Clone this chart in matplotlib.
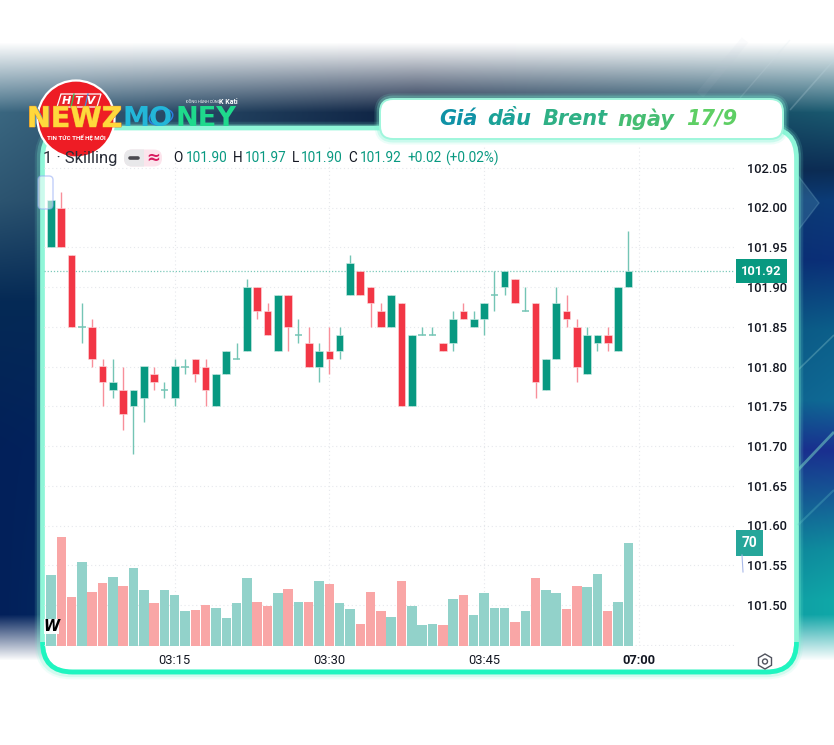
import matplotlib
matplotlib.use('Agg')
import matplotlib.pyplot as plt
import matplotlib.patheffects as pe
from matplotlib.patches import FancyBboxPatch, Circle, Rectangle, Polygon, RegularPolygon, Ellipse
from matplotlib.transforms import blended_transform_factory
import numpy as np

plt.rcParams['font.family'] = ['Roboto', 'DejaVu Sans']

W, H = 834, 745

opens = [101.95,102.00,101.94,101.85,101.85,101.80,101.77,101.77,101.75,101.76,101.79,101.77,101.76,101.80,101.81,101.80,101.75,101.79,101.81,101.82,
         101.90,101.87,101.82,101.89,101.84,101.83,101.80,101.82,101.82,101.89,101.92,101.90,101.87,101.85,101.88,101.75,101.84,101.84,101.83,101.83,
         101.87,101.85,101.86,101.89,101.90,101.91,101.87,101.88,101.77,101.81,101.87,101.85,101.79,101.83,101.84,101.82,101.90]
closes = [102.01,101.95,101.85,101.85,101.81,101.78,101.78,101.74,101.77,101.80,101.78,101.77,101.80,101.80,101.79,101.77,101.79,101.82,101.81,101.90,
          101.87,101.84,101.89,101.85,101.84,101.80,101.82,101.81,101.84,101.93,101.89,101.88,101.85,101.89,101.75,101.84,101.84,101.84,101.82,101.86,
          101.86,101.86,101.88,101.89,101.92,101.88,101.87,101.78,101.81,101.88,101.86,101.80,101.84,101.84,101.83,101.90,101.92]
highs = [102.01,102.02,101.94,101.88,101.86,101.81,101.81,101.80,101.77,101.80,101.80,101.78,101.81,101.81,101.81,101.81,101.79,101.82,101.83,101.91,
         101.90,101.88,101.89,101.89,101.86,101.85,101.83,101.85,101.85,101.94,101.92,101.90,101.88,101.89,101.88,101.84,101.85,101.85,101.83,101.87,
         101.88,101.87,101.88,101.92,101.92,101.91,101.90,101.88,101.81,101.90,101.89,101.86,101.85,101.84,101.85,101.90,101.97]
lows = [101.95,101.95,101.85,101.83,101.80,101.75,101.76,101.72,101.69,101.73,101.77,101.76,101.75,101.79,101.78,101.75,101.75,101.79,101.81,101.82,
        101.86,101.84,101.82,101.82,101.83,101.80,101.78,101.79,101.81,101.89,101.89,101.85,101.85,101.85,101.75,101.75,101.84,101.84,101.82,101.82,
        101.86,101.85,101.84,101.87,101.89,101.88,101.87,101.76,101.77,101.81,101.85,101.78,101.79,101.82,101.82,101.82,101.90]
volumes = [48,74,33,57,37,43,47,41,53,38,29,38,35,24,24.5,28,26,19,29,46,30,27,36,39,30,30,44,42,29,25,
           15,37,24,20,44,27,14,15,14.5,32,35,21,36,26,26,16,24,46,38,36,25,41,40,49,24,30,70]

price_ticks = [101.45,101.50,101.55,101.60,101.65,101.70,101.75,101.80,101.85,101.90,101.95,102.00,102.05]
price_labels = ['','101.50','101.55','101.60','101.65','101.70','101.75','101.80','101.85','101.90','101.95','102.00','102.05']
time_ticks = [12,27,42,57]
time_labels = ['03:15','03:30','03:45','07:00']

GREEN = '#089981'
RED = '#f23645'
GREEN_WICK = '#74c5b5'
RED_WICK = '#f88f9a'
GREEN_VOL = '#92d2ca'
RED_VOL = '#f9a6a6'
TXT = '#131722'

fig = plt.figure(figsize=(W/100, H/100), dpi=100)

# background picture, left and right colour columns blended across
ax_bg = fig.add_axes([0,0,1,1], zorder=0)
stops = [0,100,200,300,450,600,745]
left_col = np.array([[60,105,130],[60,105,130],[44,84,112],[5,42,85],[2,32,90],[2,32,90],[2,32,90]])
mid_col = np.array([[13,31,63],[13,31,63],[8,35,75],[5,40,90],[5,50,110],[8,80,130],[8,80,130]])
right_stops = [0,110,170,200,260,330,400,450,500,550,600,745]
right_col = np.array([[26,90,112],[26,90,112],[12,44,84],[12,60,120],[11,47,120],[12,95,138],[15,106,149],[26,47,144],[21,94,150],[15,143,159],[16,168,168],[16,168,168]])
yy = np.arange(H)
cols = np.zeros((H,3,3))
for c in range(3):
    cols[:,0,c] = np.interp(yy,stops,left_col[:,c])
    cols[:,1,c] = np.interp(yy,stops,mid_col[:,c])
    cols[:,2,c] = np.interp(yy,right_stops,right_col[:,c])
xx = np.arange(W)/(W-1)
img = np.zeros((H,W,3))
for c in range(3):
    a = np.clip(xx*2,0,1)[None,:]
    b = np.clip(xx*2-1,0,1)[None,:]
    img[:,:,c] = cols[:,0,c][:,None]*(1-a) + cols[:,1,c][:,None]*a*(1-b) + cols[:,2,c][:,None]*b
# white fades top and bottom
top_col = np.clip((yy-42)/70,0,1)[:,None]
bot_fade = np.clip((660-yy)/46,0,1)[:,None]
for c in range(3):
    img[:,:,c] = 255 - (255-img[:,:,c])*top_col
    img[:,:,c] = 255 - (255-img[:,:,c])*bot_fade
ax_bg.imshow(img/255, extent=(0,W,H,0), aspect='auto')
ax_bg.set_xlim(0,W)
ax_bg.set_ylim(H,0)
ax_bg.axis('off')

# diagonal streaks and a diamond on the right
ax_bg.add_patch(Polygon([[790,165],[819,203],[790,241],[770,203]],fc='#5a9ab8',ec='#7ab0c8',alpha=.28,lw=1))
for x0,y0,x1,y1,col,al,lw in [(798,370,834,335,'#9fd8d8',.3,1.2),(798,470,834,432,'#7fe0c8',.5,2),(798,525,834,490,'#60c0c8',.3,1.5),
                              (790,110,834,60,'#c0d8e0',.25,1.2),(700,95,745,40,'#c0c8d8',.07,6),(740,98,790,40,'#d0e0e8',.15,1)]:
    ax_bg.plot([x0,x1],[y0,y1],color=col,alpha=al,lw=lw,solid_capstyle='butt')

# white panel
for lw,al in [(9,.12),(6,.25)]:
    ax_bg.add_patch(FancyBboxPatch((41,128),756,545,boxstyle='round,pad=0,rounding_size=30',fc='none',ec='#7ff5d5',lw=lw,alpha=al))
ax_bg.add_patch(FancyBboxPatch((42.5,128),754,544,boxstyle='round,pad=0,rounding_size=30',fc='white',ec='#8ff6d8',lw=3.4))
low_edge = FancyBboxPatch((42.5,128),754,544,boxstyle='round,pad=0,rounding_size=30',fc='none',ec='#1ff5c0',lw=3.4)
ax_bg.add_patch(low_edge)
low_edge.set_clip_path(Rectangle((0,642),W,103,transform=ax_bg.transData))

# price axes
ax = fig.add_axes([44/W,1-646/H,691/W,499/H],zorder=2)
ax.patch.set_alpha(0)
ax.set_xlim((44-51)/10.31,(735-51)/10.31)
per_px = 0.5/397.5
ax.set_ylim(101.5-(646-605)*per_px,102+(207.5-147)*per_px)
for s in ax.spines.values():
    s.set_visible(False)
idx = np.arange(len(opens))
o = np.array(opens); c = np.array(closes); h = np.array(highs); l = np.array(lows)
up = c>=o
ax.vlines(idx[up],l[up],h[up],color=GREEN_WICK,lw=1.0,zorder=3)
ax.vlines(idx[~up],l[~up],h[~up],color=RED_WICK,lw=1.0,zorder=3)
body = np.abs(c-o)
ax.bar(idx[up&(body>0)],body[up&(body>0)],bottom=o[up&(body>0)],width=.74,color=GREEN,edgecolor='#d5efe9',linewidth=.4,zorder=4)
ax.bar(idx[~up],body[~up],bottom=c[~up],width=.74,color=RED,edgecolor='#fde0e3',linewidth=.4,zorder=4)
doji = body==0
ax.hlines(c[doji],idx[doji]-.36,idx[doji]+.36,color=GREEN_WICK,lw=1.1,zorder=4)
ax.axhline(closes[-1],color='#7cc9ba',lw=.9,ls=(0,(1,1.5)),zorder=2)
ax.yaxis.tick_right()
ax.set_yticks(price_ticks)
ax.set_yticklabels(price_labels,fontsize=9.3,color=TXT,fontweight='medium')
ax.set_xticks(time_ticks)
ax.set_xticklabels(time_labels,fontsize=9.3,color=TXT)
ax.get_xticklabels()[-1].set_fontweight('bold')
ax.tick_params(axis='y',length=0,pad=8.5)
ax.tick_params(axis='x',length=0,pad=6)
ax.grid(True,color='#e6e8ec',lw=.8,ls=(0,(1,2.5)))
ax.set_axisbelow(True)

tr = blended_transform_factory(ax.transAxes,ax.transData)
ax.text(1.0087,closes[-1],'101.92',transform=tr,color='white',fontsize=9.3,fontweight='bold',va='center',ha='left',zorder=6,
        bbox=dict(boxstyle='square,pad=0.42',fc=GREEN,ec='none'))

# volume axes
ax_v = fig.add_axes([44/W,1-646/H,691/W,499/H],zorder=3)
ax_v.patch.set_alpha(0)
ax_v.set_xlim(ax.get_xlim())
ax_v.set_ylim(0,499/1.47)
ax_v.axis('off')
ax_v.bar(idx,volumes,width=.92,color=[GREEN_VOL if u else RED_VOL for u in up],linewidth=0)
tr_v = blended_transform_factory(ax_v.transAxes,ax_v.transData)
ax_v.text(1.0101,volumes[-1],'70',transform=tr_v,color='white',fontsize=9.8,fontweight='bold',va='center',ha='left',
          bbox=dict(boxstyle='square,pad=0.42',fc='#26a69a',ec='none'),clip_on=False)

# overlay in pixel coordinates
top = fig.add_axes([0,0,1,1],zorder=5)
top.patch.set_alpha(0)
top.set_xlim(0,W)
top.set_ylim(H,0)
top.axis('off')

# header line
top.text(43,158,'1 · Skilling',fontsize=12,color='#2a2e39',va='center')
top.add_patch(FancyBboxPatch((124,149.5),38,17,boxstyle='round,pad=0,rounding_size=8',fc='#fce4ec',ec='none'))
gray_half = FancyBboxPatch((124,149.5),38,17,boxstyle='round,pad=0,rounding_size=8',fc='#e8e8ea',ec='none')
top.add_patch(gray_half)
gray_half.set_clip_path(Rectangle((124,149),20,19,transform=top.transData))
top.plot([130,138],[158,158],color='#4a4a50',lw=2.6,solid_capstyle='round')
top.text(153,158,'≈',fontsize=12,color='#d81b60',ha='center',va='center',family='DejaVu Sans',fontweight='bold')
for x,s,col in [(173,'O',TXT),(186,'101.90',GREEN),(233,'H',TXT),(245,'101.97',GREEN),(292,'L',TXT),(301,'101.90',GREEN),
                (348,'C',TXT),(360,'101.92',GREEN),(407,'+0.02',GREEN),(445,'(+0.02%)',GREEN)]:
    top.text(x,158,s,fontsize=9.8,color=col,va='center')

# handle on the left, TV mark, settings icon
top.add_patch(FancyBboxPatch((38,176),15,33,boxstyle='round,pad=0,rounding_size=4',fc='white',ec='#8fa8f5',lw=1,alpha=.55))
top.add_patch(Rectangle((44,619),15,15,fc='white',ec='none',alpha=.95))
top.text(51.5,626.5,'W',fontsize=10.5,fontweight='bold',fontstyle='italic',color='black',ha='center',va='center',family='DejaVu Sans')
top.plot([742,743],[555,572],color='#a8b8e8',lw=.8)
top.add_patch(RegularPolygon((765,661.5),6,radius=7.5,fc='white',ec='#50535e',lw=1))
top.add_patch(Circle((765,661.5),2.5,fc='white',ec='#50535e',lw=1))

# title pill
for lw,al in [(8,.15),(5,.3)]:
    top.add_patch(FancyBboxPatch((380,99),403,40,boxstyle='round,pad=0,rounding_size=13',fc='none',ec='#7ff5d5',lw=lw,alpha=al))
top.add_patch(FancyBboxPatch((380,99),403,40,boxstyle='round,pad=0,rounding_size=13',fc='white',ec='#9ff6dc',lw=1.4))
for x,s,col in [(439,'Giá','#0f92a6'),(487,'dầu','#1ba297'),(543,'Brent','#2fb085'),(617,'ngày','#46bd72'),(686,'17/9','#5ecf64')]:
    top.text(x,119,s,fontsize=15,fontweight='bold',fontstyle='italic',color=col,va='center',family='DejaVu Sans')

# logo
newz_kw = dict(fontsize=20.5,fontweight='bold',family='DejaVu Sans',va='center',ha='left')
red_part = top.text(27,119,'NEWZ',color='#e8232a',**newz_kw)
red_part.set_clip_path(Rectangle((0,80),76,80,transform=top.transData))
blue_part = top.text(27,119,'NEWZ',color='#22b8e6',**newz_kw)
blue_part.set_clip_path(Rectangle((76,80),80,80,transform=top.transData))
logo = Circle((76,119),38.5,fc='#ee1c25',ec='white',lw=1.6)
top.add_patch(logo)
yel = top.text(27,119,'NEWZ',color='#ffd83c',path_effects=[pe.withStroke(linewidth=.6,foreground='#f08a1d')],**newz_kw)
yel.set_clip_path(Circle((76,119),38,transform=top.transData))
top.add_patch(Polygon([[61,94],[101,94],[97,107],[57,107]],fc='#e8232a',ec='white',lw=.9))
top.plot([74,71],[94,107],color='#37c25a',lw=.9)
top.plot([88,85],[94,107],color='#3b8fe0',lw=.9)
top.text(79,100.5,'H T V',fontsize=8,fontweight='bold',fontstyle='italic',color='white',ha='center',va='center',family='DejaVu Sans')
top.text(76,137.5,'TIN TỨC THẾ HỆ MỚI',fontsize=4.4,fontweight='bold',color='white',ha='center',va='center')
top.text(123,119,'MO',fontsize=19.5,fontweight='bold',family='DejaVu Sans',color='#23b6d8',va='center')
top.text(176,119,'NEY',fontsize=19.5,fontweight='bold',family='DejaVu Sans',color='#1fd98c',va='center')
top.add_patch(Ellipse((161,117),24,15,angle=-15,fc='none',ec='#2a7fe0',lw=1.1))
top.text(186,102,'ĐỒNG HÀNH CÙNG',fontsize=2.8,color='white',va='center')
top.text(219,102,'K Kati',fontsize=5,color='white',va='center',fontweight='bold')

plt.savefig('out.png',dpi=100)
